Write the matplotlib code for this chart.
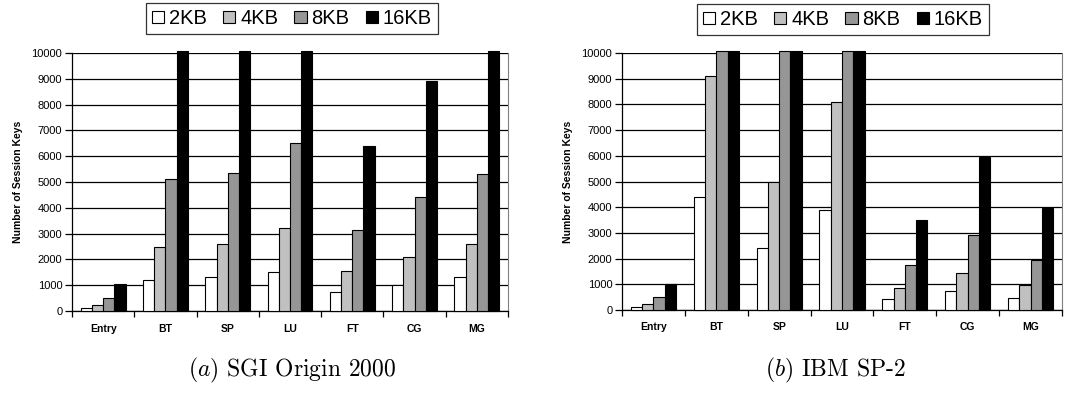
import numpy as np
import matplotlib.pyplot as plt
from matplotlib.patches import Patch

plt.rcParams['font.family'] = ['Liberation Sans', 'DejaVu Sans']
plt.rcParams['mathtext.fontset'] = 'cm'

categories = ['Entry', 'BT', 'SP', 'LU', 'FT', 'CG', 'MG']
sizes = ['2KB', '4KB', '8KB', '16KB']
colors = ['white', '#c0c0c0', '#969696', 'black']

# values above 10000 are cut off at the top of the chart
sgi = {
    '2KB': [130, 1200, 1300, 1500, 750, 1000, 1300],
    '4KB': [250, 2500, 2600, 3200, 1550, 2100, 2600],
    '8KB': [500, 5100, 5350, 6500, 3150, 4400, 5300],
    '16KB': [1030, 10100, 10100, 10100, 6400, 8900, 10100],
}
ibm = {
    '2KB': [120, 4400, 2400, 3900, 430, 720, 480],
    '4KB': [250, 9100, 5000, 8100, 870, 1430, 970],
    '8KB': [500, 10100, 10100, 10100, 1750, 2900, 1950],
    '16KB': [1030, 10100, 10100, 10100, 3500, 5950, 3980],
}
captions = [r'$(a)$ SGI Origin 2000', r'$(b)$ IBM SP-2']

W, H = 1076, 412
fig = plt.figure(figsize=(W / 100, H / 100), dpi=100)

axes_px = [(72, 53, 508, 311), (622, 53, 1062, 310)]
legend_px = [(150, 4, 434, 33), (702, 5, 984, 34)]
caption_x = [292, 835]

x = np.arange(len(categories))
bw = 0.18
for k, data in enumerate([sgi, ibm]):
    l, t, r, b = axes_px[k]
    ax = fig.add_axes([l / W, 1 - b / H, (r - l) / W, (b - t) / H])
    for i, s in enumerate(sizes):
        ax.bar(x + (i - 1.5) * bw, np.minimum(data[s], 10080), bw, color=colors[i],
               edgecolor='black', linewidth=0.8, zorder=3, clip_on=False)
    ax.set_xlim(-0.5, len(categories) - 0.5)
    ax.set_ylim(0, 10000)
    ax.set_yticks(range(0, 10001, 1000))
    ax.yaxis.grid(True, color='black', linewidth=0.9, zorder=0)
    ax.set_xticks(x)
    ax.set_xticklabels(categories, fontsize=7.5, fontweight='bold')
    ax.set_xticks(np.arange(-0.5, len(categories)), minor=True)
    ax.tick_params(axis='x', which='major', length=0, pad=9)
    ax.tick_params(axis='x', which='minor', length=4, width=0.9, direction='out')
    ax.tick_params(axis='y', labelsize=8, length=5, width=0.9, pad=2)
    ax.set_ylabel('Number of Session Keys', fontsize=7.5, fontweight='bold', labelpad=6)
    ax.spines['top'].set_visible(False)
    ax.spines['right'].set_color('#808080')
    ax.spines['right'].set_linewidth(0.8)
    ax.spines['left'].set_linewidth(0.9)
    ax.spines['bottom'].set_linewidth(0.9)

    ll, lt, lr, lb = legend_px[k]
    handles = [Patch(facecolor=c, edgecolor='black', linewidth=0.8) for c in colors]
    leg = fig.legend(handles, sizes, loc='center',
                     bbox_to_anchor=((ll + lr) / 2 / W, 1 - (lt + lb) / 2 / H),
                     ncol=4, fontsize=14.5, frameon=True, fancybox=False,
                     edgecolor='black', handlelength=0.6, handleheight=0.6,
                     handletextpad=0.25, columnspacing=0.8, borderpad=0.3,
                     borderaxespad=0)
    leg.get_frame().set_linewidth(0.9)

    fig.text(caption_x[k] / W, 1 - 370 / H, captions[k], fontsize=17,
             family='cmr10', ha='center', va='center')

fig.savefig('out.png', dpi=100)
